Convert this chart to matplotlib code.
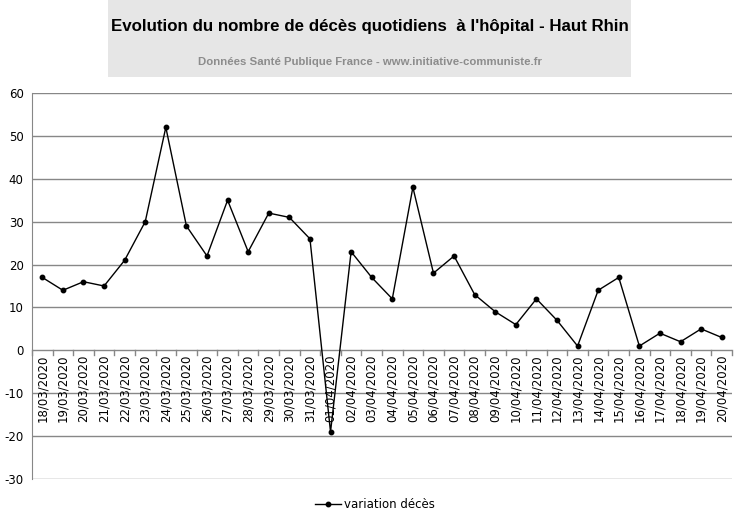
import matplotlib.pyplot as plt
from matplotlib.patches import Rectangle
from matplotlib.lines import Line2D

plt.rcParams['axes.unicode_minus'] = False

dates = ['18/03/2020', '19/03/2020', '20/03/2020', '21/03/2020', '22/03/2020',
         '23/03/2020', '24/03/2020', '25/03/2020', '26/03/2020', '27/03/2020',
         '28/03/2020', '29/03/2020', '30/03/2020', '31/03/2020', '01/04/2020',
         '02/04/2020', '03/04/2020', '04/04/2020', '05/04/2020', '06/04/2020',
         '07/04/2020', '08/04/2020', '09/04/2020', '10/04/2020', '11/04/2020',
         '12/04/2020', '13/04/2020', '14/04/2020', '15/04/2020', '16/04/2020',
         '17/04/2020', '18/04/2020', '19/04/2020', '20/04/2020']
deces = [17, 14, 16, 15, 21, 30, 52, 29, 22, 35, 23, 32, 31, 26,
         -19, 23, 17, 12, 38, 18, 22, 13, 9, 6, 12, 7, 1, 14, 17, 1, 4, 2, 5, 3]
y_ticks = [-30, -20, -10, 0, 10, 20, 30, 40, 50, 60]

title = "Evolution du nombre de décès quotidiens  à l'hôpital - Haut Rhin"
subtitle = "Données Santé Publique France - www.initiative-communiste.fr"
serie = "variation décès"

fig = plt.figure(figsize=(7.39, 5.18), dpi=100)
W, H = 739, 518

# title box
fig.patches.append(Rectangle((108 / W, 1 - 77 / H), (631 - 108) / W, 77 / H,
                             transform=fig.transFigure, facecolor='#e6e6e6',
                             edgecolor='none', zorder=0))
t1 = fig.text(370 / W, 1 - 27 / H, title, ha='center', va='center', fontsize=20,
              fontweight='bold', family=['Liberation Sans', 'DejaVu Sans'],
              color='black')
t2 = fig.text(370 / W, 1 - 62 / H, subtitle, ha='center', va='center', fontsize=12,
              fontweight='bold', family=['Liberation Sans', 'DejaVu Sans'],
              color='#8c8c8c')

# shrink the titles until they fit the grey box like the original
r = fig.canvas.get_renderer()
for t, target in [(t1, 516), (t2, 340)]:
    w = t.get_window_extent(r).width
    t.set_fontsize(t.get_fontsize() * target / w)

ax = fig.add_axes([32 / W, 1 - 479 / H, 700 / W, 386 / H])
n = len(dates)
x = list(range(n))
ax.plot(x, deces, color='black', lw=1.0, marker='o', markersize=3.2, zorder=3)

ax.set_xlim(-0.5, n - 0.5)
ax.set_ylim(-30, 60)
ax.set_yticks(y_ticks)
ax.tick_params(axis='y', length=0, labelsize=8.5, pad=6)
for v in y_ticks:
    ax.axhline(v, color='#878787', lw=1.0, zorder=1)

for s in ['top', 'right', 'bottom']:
    ax.spines[s].set_visible(False)
ax.spines['left'].set_color('#878787')

# category axis drawn at y=0
ax.set_xticks([])
for i in range(n + 1):
    ax.plot([i - 0.5, i - 0.5], [0, -1.2], color='#878787', lw=1.0, zorder=1,
            clip_on=False)
for i, d in enumerate(dates):
    ax.text(i, -1.0, d, rotation=90, ha='center', va='top', fontsize=8.5,
            zorder=2)

h = Line2D([], [], color='black', lw=1.0, marker='o', markersize=3.2)
fig.legend([h], [serie], loc='center', bbox_to_anchor=(375 / W, 1 - 505 / H),
           frameon=False, fontsize=8.5, handlelength=2.2, handletextpad=0.3)

fig.savefig('out.png', dpi=100)
